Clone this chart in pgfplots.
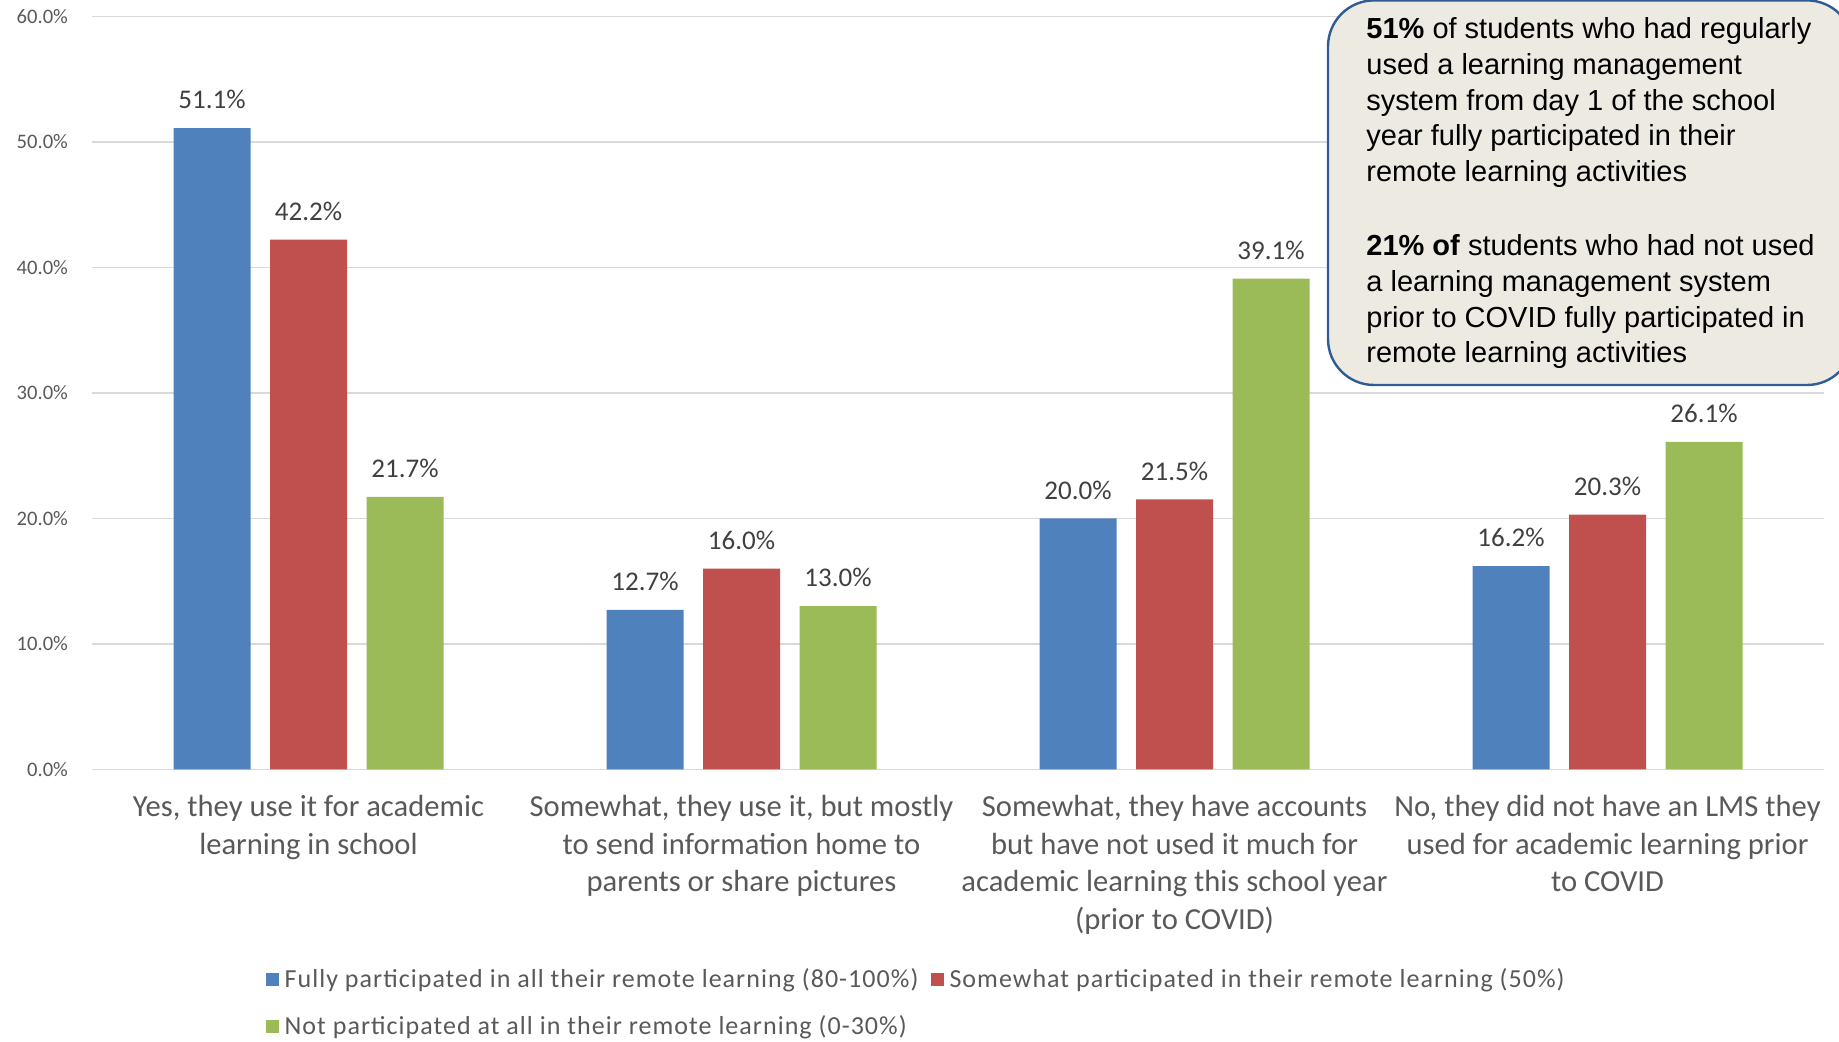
\documentclass[border=0pt]{standalone}
\usepackage{fontspec}
\setmainfont{Carlito}
\newfontfamily\arialf{Liberation Sans}
\newfontfamily\legf[LetterSpace=4]{Carlito}
\usepackage{pgfplots}
\pgfplotsset{compat=1.18}
\pgfkeys{/pgf/number format/assume math mode=true}
\definecolor{cblue}{HTML}{4F81BD}
\definecolor{cred}{HTML}{C0504D}
\definecolor{cgreen}{HTML}{9BBB59}
\definecolor{gridc}{HTML}{D9D9D9}
\definecolor{labc}{HTML}{404040}
\definecolor{tickc}{HTML}{595959}
\definecolor{boxfill}{HTML}{ECEAE1}
\definecolor{boxborder}{HTML}{2F5C94}
\begin{document}
\begin{tikzpicture}
\useasboundingbox (0,0) rectangle (919.5pt,520.5pt);
\clip (0,0) rectangle (919.5pt,520.5pt);
\begin{axis}[
  at={(46pt,135.85pt)}, anchor=south west,
  scale only axis, width=866pt, height=376.5pt,
  xmin=-0.5, xmax=3.5, ymin=0, ymax=60,
  ytick={0,10,20,30,40,50,60},
  xtick={0,1,2,3},
  xticklabels={{Yes, they use it for academic\\learning in school},
               {Somewhat, they use it, but mostly\\to send information home to\\parents or share pictures},
               {Somewhat, they have accounts\\but have not used it much for\\academic learning this school year\\(prior to COVID)},
               {No, they did not have an LMS they\\used for academic learning prior\\to COVID}},
  xticklabel style={align=center, font=\fontsize{15.3}{18.8}\selectfont, text=tickc, yshift=-9.5pt},
  yticklabel={\pgfmathprintnumber[fixed,fixed zerofill,precision=1]{\tick}\%},
  yticklabel style={font=\fontsize{10.3}{12}\selectfont, text=tickc, xshift=-8.5pt},
  axis line style={draw=none},
  major tick length=0pt,
  ymajorgrids, grid style={gridc, line width=0.8pt},
  ybar, bar width=38.5pt,
  nodes near coords={\pgfmathprintnumber[fixed,fixed zerofill,precision=1]{\pgfplotspointmeta}\%},
  nodes near coords style={font=\fontsize{13.5}{16}\selectfont, text=labc, anchor=south, yshift=6pt},
  legend columns=2,
  legend cell align=left,
  legend image code/.code={\fill[#1] (0pt,-3.25pt) rectangle (6.5pt,3.25pt);},
  legend style={draw=none, fill=none, font=\legf\fontsize{13}{15}\selectfont, text=tickc,
    at={(0.1,-0.2612)}, anchor=north west, inner sep=0pt, row sep=10.5pt,
    nodes={inner sep=1pt},
    /tikz/every odd column/.append style={column sep=2pt},
    /tikz/every even column/.append style={column sep=5pt}},
]
\addplot[fill=cblue, draw=none, bar shift=-48.25pt] coordinates {(0,51.1) (1,12.7) (2,20.0) (3,16.2)};
\addplot[fill=cred, draw=none, bar shift=0pt] coordinates {(0,42.2) (1,16.0) (2,21.5) (3,20.3)};
\addplot[fill=cgreen, draw=none, bar shift=48.25pt] coordinates {(0,21.7) (1,13.0) (2,39.1) (3,26.1)};
\legend{Fully participated in all their remote learning (80-100\%),
        Somewhat participated in their remote learning (50\%),
        Not participated at all in their remote learning (0-30\%)}
\end{axis}
\draw[draw=boxborder, fill=boxfill, line width=1.2pt, rounded corners=23pt]
  (664pt,328pt) rectangle (926.5pt,520.3pt);
\begin{scope}[every node/.style={anchor=base west, inner sep=0pt, font=\arialf\fontsize{14.5}{17.8}\selectfont}]
\node at (683pt,501pt) {\textbf{51\%} of students who had regularly};
\node at (683pt,483.2pt) {used a learning management};
\node at (683pt,465.4pt) {system from day 1 of the school};
\node at (683pt,447.6pt) {year fully participated in their};
\node at (683pt,429.8pt) {remote learning activities};
\node at (683pt,392.5pt) {\textbf{21\% of} students who had not used};
\node at (683pt,374.7pt) {a learning management system};
\node at (683pt,356.9pt) {prior to COVID fully participated in};
\node at (683pt,339.1pt) {remote learning activities};
\end{scope}
\end{tikzpicture}
\end{document}
